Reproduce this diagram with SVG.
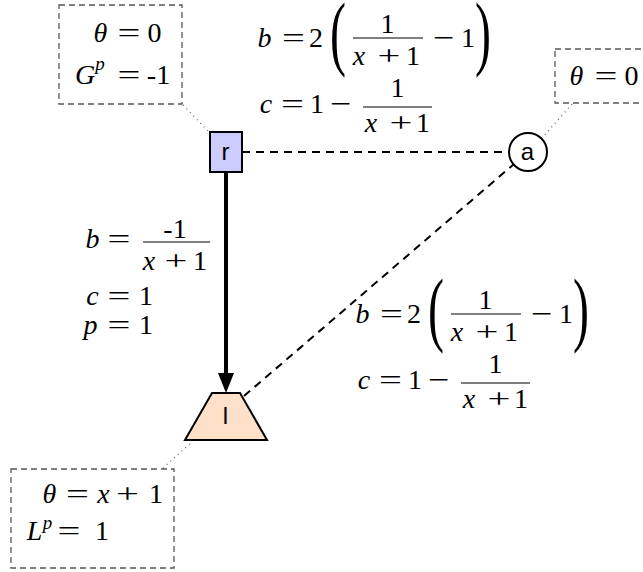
<svg xmlns="http://www.w3.org/2000/svg" width="643" height="572" viewBox="0 0 643 572">
<style>
.m{font-family:"Liberation Serif","Times New Roman",serif;font-size:28px;text-anchor:middle;fill:#000}
.i{font-style:italic}
.s{font-size:19px}
.par{font-size:30px}
.n{font-family:"Liberation Sans",Arial,sans-serif;font-size:24px;text-anchor:middle;fill:#000}
.box{fill:none;stroke:#555;stroke-width:1.3;stroke-dasharray:6 4}
.dot{fill:none;stroke:#666;stroke-width:1.2;stroke-dasharray:1 4}
.bar{stroke:#000;stroke-width:1.2}
.dash{fill:none;stroke:#000;stroke-width:2;stroke-dasharray:8 6}
</style>
<defs>
<marker id="ah" viewBox="0 0 20 16" refX="0" refY="8" markerWidth="20" markerHeight="16" markerUnits="userSpaceOnUse" orient="auto">
<path d="M0,0 L20,8 L0,16 z" fill="#000"/>
</marker>
<g id="lab2">
<text class="m i" x="264.5" y="47">b</text>
<text class="m" transform="translate(293.5,47) scale(1.45,1)">=</text>
<text class="m" x="316" y="47">2</text>
<text class="m par" transform="translate(338,60.3) scale(1.6,2.75)">(</text>
<text class="m" x="387.5" y="33">1</text>
<line class="bar" x1="353" y1="38" x2="423" y2="38"/>
<text class="m i" x="359" y="65">x</text>
<text class="m" transform="translate(389,65) scale(1.45,1)">+</text>
<text class="m" x="413" y="65">1</text>
<text class="m" transform="translate(444,47) scale(1.35,1)">−</text>
<text class="m" x="468" y="47">1</text>
<text class="m par" transform="translate(483,60.3) scale(1.6,2.75)">)</text>
<text class="m i" x="266" y="113">c</text>
<text class="m" transform="translate(292.5,113) scale(1.45,1)">=</text>
<text class="m" x="317" y="113">1</text>
<text class="m" transform="translate(341,113) scale(1.35,1)">−</text>
<text class="m" x="397.5" y="97">1</text>
<line class="bar" x1="363" y1="107" x2="432" y2="107"/>
<text class="m i" x="371" y="132">x</text>
<text class="m" transform="translate(401,132) scale(1.45,1)">+</text>
<text class="m" x="423" y="132">1</text>
</g>
</defs>

<g id="connectors">
<line class="dash" x1="242" y1="152" x2="509" y2="152"/>
<line class="dash" x1="244" y1="396" x2="514" y2="164"/>
<line x1="226" y1="172" x2="226" y2="373" stroke="#000" stroke-width="4" marker-end="url(#ah)"/>
<line class="dot" x1="183" y1="105" x2="209" y2="132"/>
<line class="dot" x1="572" y1="104" x2="542" y2="138"/>
<line class="dot" x1="163" y1="468" x2="192" y2="442"/>
</g>

<g id="label-ra">
<use href="#lab2"/>
</g>
<g id="label-la">
<use href="#lab2" transform="translate(98,276)"/>
</g>
<g id="label-rl">
<text class="m i" x="92.5" y="248">b</text>
<text class="m" transform="translate(119,248) scale(1.45,1)">=</text>
<text class="m" x="175" y="238">-1</text>
<line class="bar" x1="143" y1="242" x2="210" y2="242"/>
<text class="m i" x="149" y="270">x</text>
<text class="m" transform="translate(176,270) scale(1.45,1)">+</text>
<text class="m" x="200" y="270">1</text>
<text class="m i" x="92.5" y="305">c</text>
<text class="m" transform="translate(119,305) scale(1.45,1)">=</text>
<text class="m" x="146" y="305">1</text>
<text class="m i" x="90.5" y="334">p</text>
<text class="m" transform="translate(119,334) scale(1.45,1)">=</text>
<text class="m" x="146" y="334">1</text>
</g>

<g id="box-r">
<rect class="box" x="59" y="5" width="123" height="99"/>
<text class="m i" x="100.5" y="42">θ</text>
<text class="m" transform="translate(129,42) scale(1.45,1)">=</text>
<text class="m" x="154.5" y="42">0</text>
<text class="m i" x="85" y="84">G</text>
<text class="m i s" x="100" y="70">p</text>
<text class="m" transform="translate(129,84) scale(1.45,1)">=</text>
<text class="m" x="158.5" y="84">-1</text>
</g>
<g id="box-a">
<rect class="box" x="555" y="49" width="100" height="54"/>
<text class="m i" x="576.5" y="85">θ</text>
<text class="m" transform="translate(606,85) scale(1.45,1)">=</text>
<text class="m" x="631.5" y="85">0</text>
</g>
<g id="box-l">
<rect class="box" x="11" y="469" width="163" height="99"/>
<text class="m i" x="49.5" y="503">θ</text>
<text class="m" transform="translate(77.5,503) scale(1.45,1)">=</text>
<text class="m i" x="103.5" y="503">x</text>
<text class="m" transform="translate(127.5,503) scale(1.45,1)">+</text>
<text class="m" x="156" y="503">1</text>
<text class="m i" x="34.5" y="540">L</text>
<text class="m i s" x="47.5" y="529">p</text>
<text class="m" transform="translate(69,540) scale(1.45,1)">=</text>
<text class="m" x="102" y="540">1</text>
</g>

<g id="node-r">
<rect x="210" y="132" width="32" height="40" fill="#ccccff" stroke="#000" stroke-width="2"/>
<text class="n" x="225.5" y="160">r</text>
</g>
<g id="node-a">
<circle cx="528" cy="152" r="19" fill="#fff" stroke="#000" stroke-width="2"/>
<text class="n" x="527.5" y="160">a</text>
</g>
<g id="node-l">
<polygon points="212,393 240,393 267,440 185,440" fill="#ffe0c8" stroke="#000" stroke-width="2"/>
<text class="n" x="225.5" y="424">l</text>
</g>
</svg>
